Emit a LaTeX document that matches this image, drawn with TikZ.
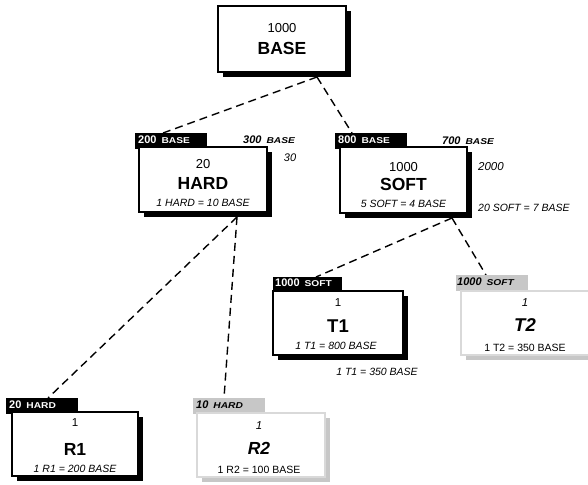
\documentclass[tikz,border=0pt]{standalone}
\usepackage{fontspec}
\usepackage{graphicx}
\setmainfont{Liberation Sans}
\usetikzlibrary{shadows}
\newcommand\fsz[1]{\fontsize{#1}{#1}\selectfont}
\newcommand\tagt[2]{{\fsz{11}#1}\hspace{5pt}\scalebox{1.2}[1]{\fsz{8.5}#2}}
\tikzset{
 ubox/.style={draw=black, line width=1.3pt, fill=white, inner sep=0pt,
   drop shadow={shadow xshift=5pt, shadow yshift=-5pt, fill=black, opacity=1}},
 gbox/.style={draw=black!15, line width=1.3pt, fill=white, inner sep=0pt,
   drop shadow={shadow xshift=5pt, shadow yshift=-5pt, fill=black!22, opacity=1}},
 btag/.style={fill=black, inner sep=0pt, anchor=north west, minimum width=72pt, minimum height=16pt},
 gtag/.style={fill=black!22, inner sep=0pt, anchor=north west, minimum width=72pt, minimum height=16pt},
 ttxt/.style={inner sep=0pt, anchor=west, text=white, font=\bfseries},
 gtxt/.style={inner sep=0pt, anchor=west, text=black, font=\bfseries\itshape},
 num/.style={inner sep=0pt},
 conn/.style={line width=1.4pt, dash pattern=on 8pt off 5pt},
}
\begin{document}
\begin{tikzpicture}[x=1pt,y=-1pt]
\useasboundingbox (0,0) rectangle (588,484);
% connector end points
\coordinate (base-o) at (317,77);
\coordinate (hard-i) at (163,133);
\coordinate (soft-i) at (352,133);
\coordinate (hard-o) at (237,217);
\coordinate (r1-i) at (48,398);
\coordinate (r2-i) at (224,398);
\coordinate (soft-o) at (452,218);
\coordinate (t1-i) at (316,277);
\coordinate (t2-i) at (486,275);
\draw[conn] (base-o) -- (hard-i);
\draw[conn] (base-o) -- (soft-i);
\draw[conn] (hard-o) -- (r1-i);
\draw[conn] (hard-o) -- (r2-i);
\draw[conn] (soft-o) -- (t1-i);
\draw[conn] (soft-o) -- (t2-i);

% BASE
\node[ubox, minimum width=128pt, minimum height=66pt] (base) at (282,39) {};
\node[num, font=\fsz{13}] (base-n) at (282,28) {1000};
\node[num, font=\fsz{17.5}\bfseries] (base-u) at (282,48) {BASE};

% HARD
\node[btag] (hardtag) at (135,133) {};
\node[ttxt] (hardtag-t) at (138,139.5) {\tagt{200}{BASE}};
\node[ubox, minimum width=128pt, minimum height=65pt] (hard) at (203,179.5) {};
\node[num, font=\fsz{13}] (hard-n) at (203,164) {20};
\node[num, font=\fsz{17.5}\bfseries] (hard-u) at (203,183) {HARD};
\node[num, font=\fsz{10.5}\itshape] (hard-f) at (203,203) {1 HARD = 10 BASE};
\node[gtxt, text=black] (hard-alt) at (243,140) {\tagt{300}{BASE}};
\node[num, font=\fsz{11}\itshape] (hard-alt2) at (290,158) {30};

% SOFT
\node[btag] (softtag) at (335,133) {};
\node[ttxt] (softtag-t) at (338,139.5) {\tagt{800}{BASE}};
\node[ubox, minimum width=127pt, minimum height=66pt] (soft) at (403.5,180) {};
\node[num, font=\fsz{13}] (soft-n) at (403.5,167) {1000};
\node[num, font=\fsz{17.5}\bfseries] (soft-u) at (403.5,184) {SOFT};
\node[num, font=\fsz{10.5}\itshape] (soft-f) at (403.5,204) {5 SOFT = 4 BASE};
\node[gtxt] (soft-alt) at (442,141) {\tagt{700}{BASE}};
\node[num, anchor=west, font=\fsz{11.5}\itshape] (soft-alt2) at (478,167) {2000};
\node[num, anchor=west, font=\fsz{10.5}\itshape] (soft-alt3) at (478,208) {20 SOFT = 7 BASE};

% T1
\node[btag, minimum width=69pt] (t1tag) at (273,277) {};
\node[ttxt] (t1tag-t) at (275,283) {\tagt{1000}{SOFT}};
\node[ubox, minimum width=130pt, minimum height=64pt] (t1) at (338,323) {};
\node[num, font=\fsz{11.5}] (t1-n) at (338,303) {1};
\node[num, font=\fsz{18.5}\bfseries] (t1-u) at (338,326) {T1};
\node[num, font=\fsz{10.5}\itshape] (t1-f) at (336,346) {1 T1 = 800 BASE};
\node[num, font=\fsz{10.5}\itshape] (t1-alt) at (377,372) {1 T1 = 350 BASE};

% T2
\node[gtag] (t2tag) at (456,275) {};
\node[gtxt] (t2tag-t) at (457,282) {\tagt{1000}{SOFT}};
\node[gbox, minimum width=128pt, minimum height=64pt] (t2) at (525,323) {};
\node[num, font=\fsz{11.5}\itshape] (t2-n) at (525,303) {1};
\node[num, font=\fsz{18.5}\bfseries\itshape] (t2-u) at (525,325) {T2};
\node[num, font=\fsz{10.5}] (t2-f) at (525,348) {1 T2 = 350 BASE};

% R1
\node[btag] (r1tag) at (6,398) {};
\node[ttxt] (r1tag-t) at (9,405) {\tagt{20}{HARD}};
\node[ubox, minimum width=126pt, minimum height=64pt] (r1) at (75,444) {};
\node[num, font=\fsz{11.5}] (r1-n) at (75,423) {1};
\node[num, font=\fsz{17.5}\bfseries] (r1-u) at (75,449) {R1};
\node[num, font=\fsz{10.5}\itshape] (r1-f) at (75,469) {1 R1 = 200 BASE};

% R2
\node[gtag] (r2tag) at (193,398) {};
\node[gtxt] (r2tag-t) at (196,405) {\tagt{10}{HARD}};
\node[gbox, minimum width=128pt, minimum height=64pt] (r2) at (261,445) {};
\node[num, font=\fsz{11.5}\itshape] (r2-n) at (259,426) {1};
\node[num, font=\fsz{17.5}\bfseries\itshape] (r2-u) at (259,448) {R2};
\node[num, font=\fsz{10.5}] (r2-f) at (259,470) {1 R2 = 100 BASE};
\end{tikzpicture}
\end{document}
